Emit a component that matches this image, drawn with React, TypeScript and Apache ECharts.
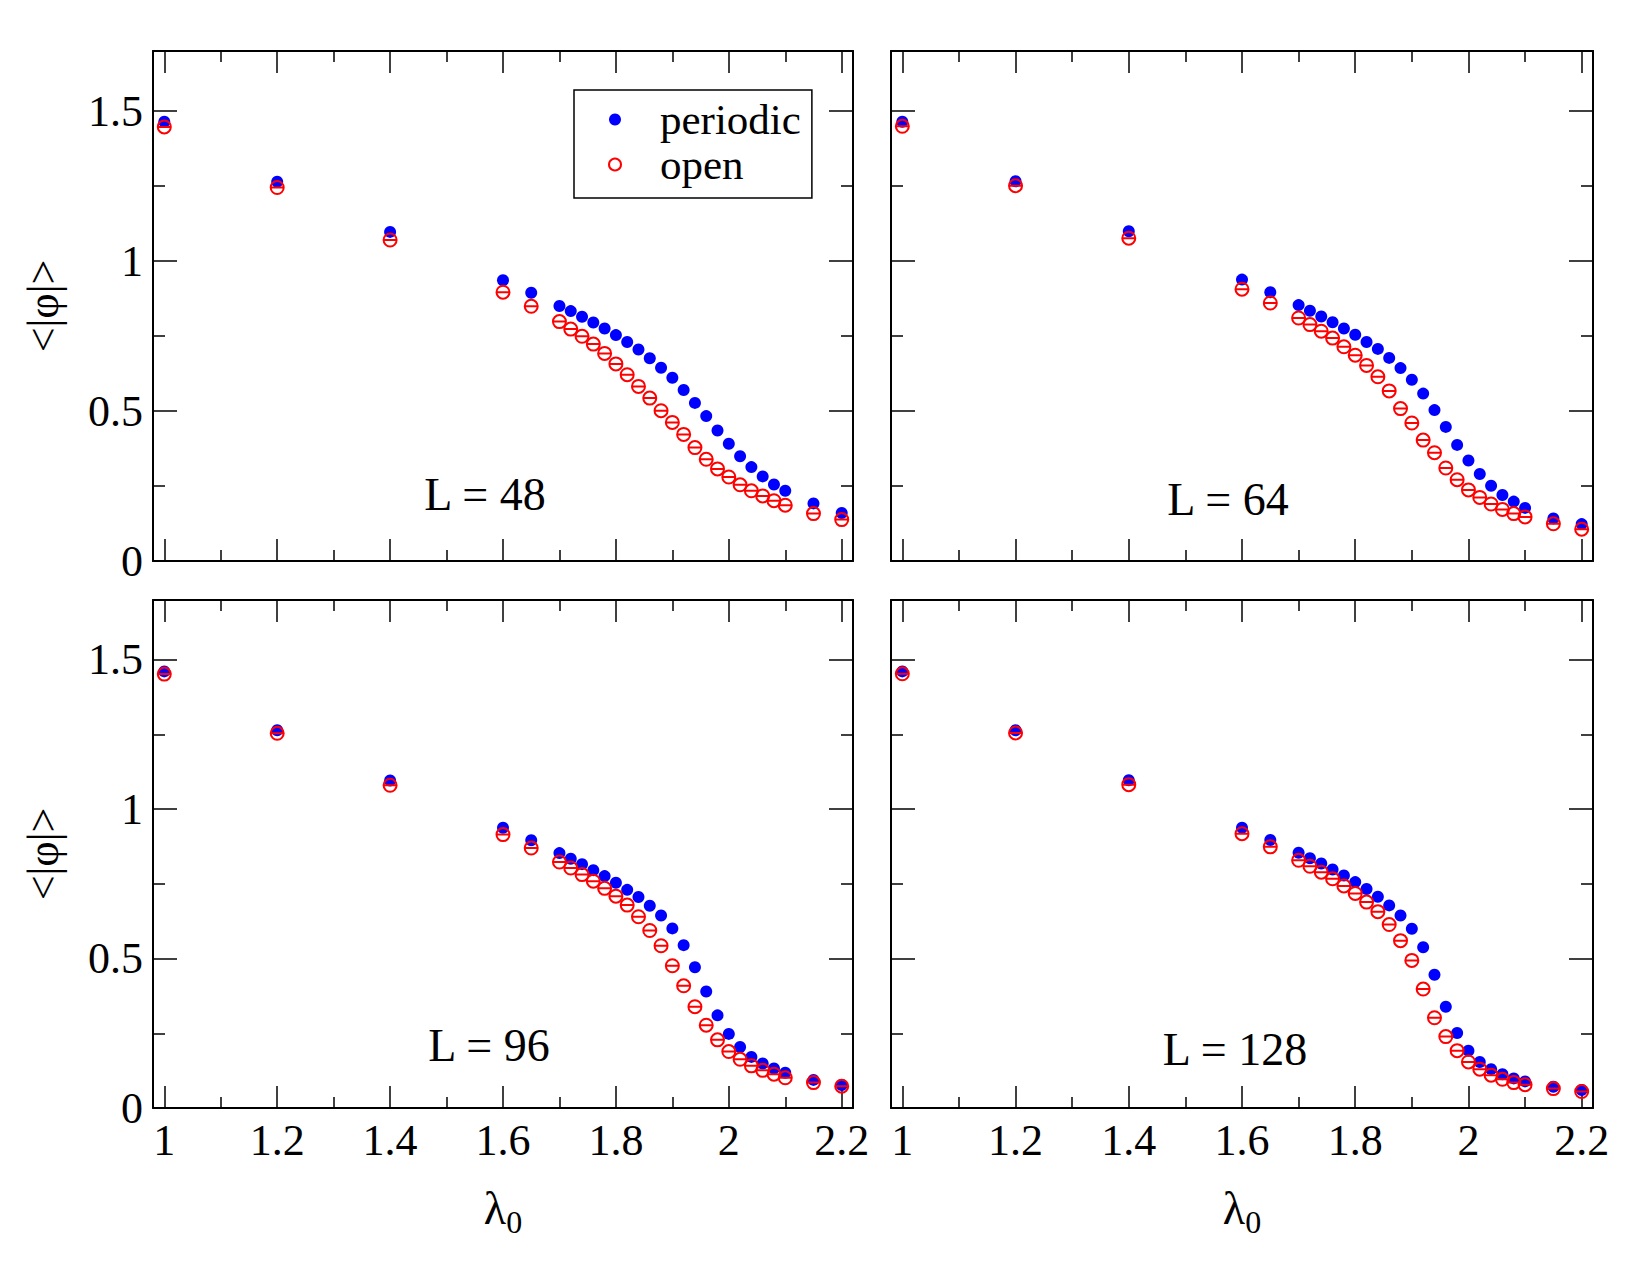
import React, { useEffect, useRef } from 'react';
import * as echarts from 'echarts';

const LAMBDA = [1.0, 1.2, 1.4, 1.6, 1.65, 1.7, 1.72, 1.74, 1.76, 1.78, 1.8, 1.82, 1.84, 1.86, 1.88, 1.9, 1.92, 1.94, 1.96, 1.98, 2.0, 2.02, 2.04, 2.06, 2.08, 2.1, 2.15, 2.2];

const PERIODIC_48 = [1.464, 1.264, 1.097, 0.936, 0.894, 0.850, 0.833, 0.814, 0.795, 0.775, 0.753, 0.730, 0.705, 0.676, 0.644, 0.611, 0.570, 0.527, 0.483, 0.435, 0.391, 0.349, 0.313, 0.282, 0.255, 0.234, 0.192, 0.160];
const OPEN_48 = [1.447, 1.245, 1.070, 0.896, 0.849, 0.798, 0.773, 0.749, 0.723, 0.692, 0.657, 0.621, 0.582, 0.543, 0.501, 0.462, 0.422, 0.378, 0.339, 0.307, 0.280, 0.254, 0.234, 0.217, 0.201, 0.186, 0.158, 0.138];

const PERIODIC_64 = [1.464, 1.266, 1.099, 0.938, 0.896, 0.853, 0.834, 0.815, 0.796, 0.775, 0.754, 0.730, 0.707, 0.677, 0.643, 0.604, 0.558, 0.503, 0.447, 0.387, 0.335, 0.290, 0.251, 0.220, 0.198, 0.177, 0.142, 0.123];
const OPEN_64 = [1.449, 1.251, 1.076, 0.906, 0.860, 0.810, 0.788, 0.766, 0.743, 0.714, 0.686, 0.652, 0.614, 0.567, 0.508, 0.460, 0.403, 0.361, 0.310, 0.271, 0.237, 0.212, 0.190, 0.172, 0.158, 0.147, 0.124, 0.106];

const PERIODIC_96 = [1.461, 1.264, 1.096, 0.938, 0.896, 0.853, 0.834, 0.816, 0.796, 0.776, 0.754, 0.730, 0.706, 0.677, 0.644, 0.601, 0.545, 0.471, 0.390, 0.310, 0.248, 0.204, 0.171, 0.149, 0.132, 0.118, 0.094, 0.077];
const OPEN_96 = [1.452, 1.254, 1.080, 0.915, 0.870, 0.823, 0.803, 0.781, 0.759, 0.735, 0.709, 0.679, 0.640, 0.594, 0.543, 0.476, 0.409, 0.339, 0.277, 0.228, 0.189, 0.163, 0.141, 0.126, 0.113, 0.101, 0.085, 0.073];

const PERIODIC_128 = [1.461, 1.264, 1.097, 0.938, 0.897, 0.854, 0.836, 0.818, 0.798, 0.778, 0.756, 0.733, 0.707, 0.678, 0.644, 0.600, 0.538, 0.446, 0.339, 0.251, 0.192, 0.154, 0.130, 0.113, 0.099, 0.089, 0.071, 0.060];
const OPEN_128 = [1.453, 1.255, 1.082, 0.918, 0.874, 0.829, 0.809, 0.789, 0.767, 0.743, 0.718, 0.689, 0.657, 0.614, 0.560, 0.494, 0.398, 0.302, 0.239, 0.192, 0.154, 0.130, 0.110, 0.096, 0.085, 0.078, 0.065, 0.055];

const PANEL_LABELS = ['L = 48', 'L = 64', 'L = 96', 'L = 128'];
const PERIODIC_SETS = [PERIODIC_48, PERIODIC_64, PERIODIC_96, PERIODIC_128];
const OPEN_SETS = [OPEN_48, OPEN_64, OPEN_96, OPEN_128];
const SERIES_NAMES = ['periodic', 'open'];
const X_TICK_LABELS = ['1', '1.2', '1.4', '1.6', '1.8', '2', '2.2'];
const Y_TICK_LABELS = ['0', '0.5', '1', '1.5'];

const FONT = "'Liberation Serif', 'Times New Roman', serif";
const OPEN_SYMBOL = 'path://M0,10 A10,10 0 1 1 20,10 A10,10 0 1 1 0,10 Z M0,10 L20,10';

export default function App() {
  const ref = useRef<HTMLDivElement>(null);

  useEffect(() => {
    const chart = echarts.init(ref.current as HTMLDivElement, null, { renderer: 'svg' });

    const grids = [
      { left: 153, top: 51, width: 700, height: 510 },
      { left: 891, top: 51, width: 702, height: 510 },
      { left: 153, top: 600, width: 700, height: 508 },
      { left: 891, top: 600, width: 702, height: 508 },
    ];
    const labelPos = [
      [485, 494],
      [1228, 499],
      [489, 1045],
      [1235, 1049],
    ];

    const xFmt = (v: number) => {
      const k = Math.round(v / 0.2);
      if (Math.abs(v - k * 0.2) > 1e-6) return '';
      const s = String(Math.round(v * 10) / 10);
      return X_TICK_LABELS.indexOf(s) >= 0 ? s : '';
    };
    const yFmt = (v: number) => {
      const k = Math.round(v / 0.5);
      if (Math.abs(v - k * 0.5) > 1e-6) return '';
      const s = String(Math.round(v * 10) / 10);
      return Y_TICK_LABELS.indexOf(s) >= 0 ? s : '';
    };

    const lineStyle = { color: '#000', width: 2 };
    const tickStyle = { color: '#000', width: 1.5 };

    const xAxis: any[] = [];
    const yAxis: any[] = [];
    const series: any[] = [];

    grids.forEach((_, i) => {
      const bottomRow = i >= 2;
      const leftCol = i % 2 === 0;
      const xBase = {
        gridIndex: i,
        type: 'value',
        min: 0.98,
        max: 2.22,
        splitNumber: 6,
        minInterval: 0.2,
        maxInterval: 0.2,
        axisLine: { show: true, onZero: false, lineStyle },
        axisTick: { show: true, inside: true, length: 22, lineStyle: tickStyle },
        minorTick: { show: true, splitNumber: 2, length: 11, lineStyle: tickStyle },
        splitLine: { show: false },
        minorSplitLine: { show: false },
      };
      xAxis.push({
        ...xBase,
        position: 'bottom',
        axisLabel: {
          show: bottomRow,
          formatter: xFmt,
          color: '#000',
          fontSize: 44,
          fontFamily: FONT,
          margin: 10,
          showMinLabel: false,
          showMaxLabel: false,
        },
        name: bottomRow ? '{l|λ}{s|0}' : '',
        nameLocation: 'middle',
        nameGap: 70,
        nameTextStyle: {
          color: '#000',
          fontFamily: FONT,
          verticalAlign: 'top',
          rich: {
            l: { fontSize: 46, fontFamily: FONT, color: '#000' },
            s: { fontSize: 32, fontFamily: FONT, color: '#000', padding: [28, 0, 0, 0] },
          },
        },
      });
      xAxis.push({
        ...xBase,
        position: 'top',
        axisLabel: { show: false },
      });
      const yBase = {
        gridIndex: i,
        type: 'value',
        min: 0,
        max: 1.7,
        interval: 0.5,
        axisLine: { show: true, onZero: false, lineStyle },
        axisTick: { show: true, inside: true, length: 24, lineStyle: tickStyle },
        minorTick: { show: true, splitNumber: 2, length: 12, lineStyle: tickStyle },
        splitLine: { show: false },
        minorSplitLine: { show: false },
      };
      yAxis.push({
        ...yBase,
        position: 'left',
        axisLabel: {
          show: leftCol,
          formatter: yFmt,
          color: '#000',
          fontSize: 44,
          fontFamily: FONT,
          margin: 10,
          showMaxLabel: false,
        },
        name: leftCol ? '<|φ|>' : '',
        nameLocation: 'middle',
        nameGap: 88,
        nameRotate: 90,
        nameTextStyle: { color: '#000', fontSize: 44, fontFamily: FONT },
      });
      yAxis.push({
        ...yBase,
        position: 'right',
        axisLabel: { show: false },
      });

      const periodic = PERIODIC_SETS[i];
      const open = OPEN_SETS[i];
      series.push({
        name: SERIES_NAMES[0],
        type: 'scatter',
        xAxisIndex: 2 * i,
        yAxisIndex: 2 * i,
        symbol: 'circle',
        symbolSize: 12,
        itemStyle: { color: '#0000ff', opacity: 1 },
        z: 2,
        data: LAMBDA.map((x, k) => [x, periodic[k]]),
      });
      series.push({
        name: SERIES_NAMES[1],
        type: 'scatter',
        xAxisIndex: 2 * i,
        yAxisIndex: 2 * i,
        symbol: OPEN_SYMBOL,
        symbolSize: 13,
        itemStyle: { color: 'rgba(0,0,0,0)', borderColor: '#ff0000', borderWidth: 2, opacity: 1 },
        z: 3,
        data: LAMBDA.map((x, k) => [x, open[k]]),
      });
    });

    const graphic = PANEL_LABELS.map((t, i) => ({
      type: 'text',
      x: labelPos[i][0],
      y: labelPos[i][1],
      z: 10,
      style: {
        text: t,
        fontSize: 46,
        fontFamily: FONT,
        fill: '#000',
        align: 'center',
        verticalAlign: 'middle',
      },
    }));

    chart.setOption({
      animation: false,
      backgroundColor: '#fff',
      textStyle: { fontFamily: FONT },
      grid: grids.map((g) => ({ ...g, containLabel: false })),
      xAxis,
      yAxis,
      series,
      legend: {
        show: true,
        orient: 'vertical',
        left: 574,
        top: 90,
        selectedMode: false,
        data: [
          { name: 'periodic', icon: 'circle', itemStyle: { color: '#0000ff', opacity: 1 } },
          {
            name: 'open',
            icon: 'circle',
            itemStyle: { color: 'rgba(0,0,0,0)', borderColor: '#ff0000', borderWidth: 2, opacity: 1 },
          },
        ],
        itemWidth: 12,
        itemHeight: 12,
        itemGap: 2,
        padding: [8, 11, 12, 34],
        borderColor: '#000',
        borderWidth: 1.5,
        backgroundColor: '#fff',
        textStyle: {
          fontSize: 43,
          lineHeight: 40,
          fontFamily: FONT,
          color: '#000',
          padding: [0, 0, 0, 34],
        },
      },
      graphic,
    });

    return () => {
      chart.dispose();
    };
  }, []);

  return (
    <div
      ref={ref}
      style={{ position: 'absolute', left: 0, top: 0, width: 1650, height: 1275, background: '#fff' }}
    />
  );
}
